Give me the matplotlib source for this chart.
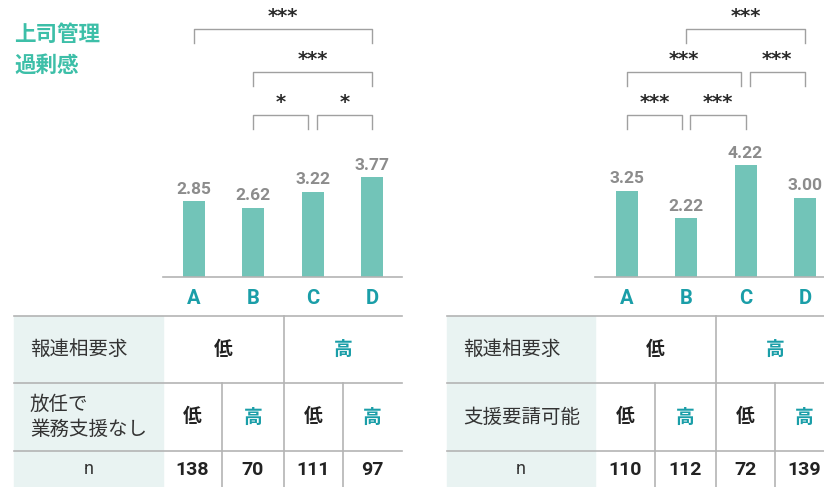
import numpy as np
import matplotlib.pyplot as plt

plt.rcParams['font.family'] = ['Noto Sans CJK JP', 'DejaVu Sans']

#%% data
groups = ['A', 'B', 'C', 'D']
vals_left = [2.85, 2.62, 3.22, 3.77]
vals_right = [3.25, 2.22, 4.22, 3.00]
n_left = [138, 70, 111, 97]
n_right = [110, 112, 72, 139]
row1_label = '報連相要求'
row1_vals = ['低', '高']
row2_label_left = '放任で\n業務支援なし'
row2_label_right = '支援要請可能'
row2_vals = ['低', '高', '低', '高']
# significance brackets: (i, j, level, label)
sig_left = [(0, 3, 0, '***'), (1, 3, 1, '***'), (1, 2, 2, '*'), (2, 3, 2, '*')]
sig_right = [(1, 3, 0, '***'), (0, 2, 1, '***'), (2, 3, 1, '***'), (0, 1, 2, '***'), (1, 2, 2, '***')]
title = '上司管理\n過剰感'

bar_c = '#72c4b8'
teal = '#1a9ea8'
title_c = '#3dbfa8'
val_c = '#8c8c8c'
line_c = '#b4b4b4'
shade_c = '#e9f3f2'

W, H = 824, 487
fig = plt.figure(figsize=(W / 100, H / 100), dpi=100)

# background axes in pixel coords for table + title
bg = fig.add_axes([0, 0, 1, 1])
bg.set_xlim(0, W)
bg.set_ylim(H, 0)
bg.axis('off')

base_y = 277
px_per_unit = 26.5
spacing = 59.3


def panel(x0, x1, c0, vals, sig):
    # x0,x1: baseline pixel extent, c0: pixel center of bar A
    ax = fig.add_axes([x0 / W, (H - base_y) / H, (x1 - x0) / W, base_y / H])
    ax.set_xlim((x0 - c0) / spacing, (x1 - c0) / spacing)
    ax.set_ylim(0, base_y / px_per_unit)
    ax.patch.set_alpha(0)
    x = np.arange(len(vals))
    ax.bar(x, vals, width=0.37, color=bar_c, zorder=2)
    for xi, v in zip(x, vals):
        ax.text(xi, v + 0.17, f'{v:.2f}', ha='center', va='bottom', fontsize=12.5,
                color=val_c, fontweight='bold', family='Roboto', clip_on=False)
    for s in ['top', 'right', 'left']:
        ax.spines[s].set_visible(False)
    ax.spines['bottom'].set_color(line_c)
    ax.spines['bottom'].set_linewidth(1.2)
    ax.set_yticks([])
    ax.set_xticks(x)
    ax.set_xticklabels(groups, color=teal, fontsize=14.5, fontweight='bold', family='Roboto')
    ax.tick_params(axis='x', length=0, pad=9)
    # brackets
    levels_y = [(base_y - 29) / px_per_unit, (base_y - 72) / px_per_unit, (base_y - 115) / px_per_unit]
    drop = 14 / px_per_unit
    gap = 0.07
    for i, j, lev, lab in sig:
        yb = levels_y[lev]
        # shrink slightly when brackets share an end
        xi = i + (gap if any(s[1] == i and s[2] == lev for s in sig) else 0)
        xj = j - (gap if any(s[0] == j and s[2] == lev for s in sig) else 0)
        ax.plot([xi, xi, xj, xj], [yb - drop, yb, yb, yb - drop], color='#a0a0a0', lw=1.0,
                clip_on=False)
        ax.text((xi + xj) / 2, yb + 0.12, lab, ha='center', va='bottom', fontsize=14,
                fontweight='bold', color='#2a2a2a', family='DejaVu Sans')
    return ax


panel(163, 402, 194, vals_left, sig_left)
panel(595, 824, 627, vals_right, sig_right)


def table(xl, xs, cols, n_vals, row2_label):
    # xl: left edge, xs: shaded end, cols: column edges
    top, r1, r2, bot = 316, 383, 451, 487
    bg.add_patch(plt.Rectangle((xl, top), xs - xl, bot - top, color=shade_c, zorder=0))
    for y in [top, r1, r2]:
        bg.plot([xl, cols[-1]], [y, y], color=line_c, lw=1.2)
    bg.plot([cols[2], cols[2]], [top, bot], color=line_c, lw=1.2)
    for k in [1, 3]:
        bg.plot([cols[k], cols[k]], [r1, bot], color=line_c, lw=1.2)
    bg.text(xl + 16, (top + r1) / 2, row1_label, ha='left', va='center', fontsize=14, color='#333333')
    bg.text(xl + 16, (r1 + r2) / 2, row2_label, ha='left', va='center', fontsize=14,
            color='#333333', linespacing=1.25)
    bg.text((xl + xs) / 2, (r2 + bot) / 2, 'n', ha='center', va='center', fontsize=13,
            color='#333333', family='Roboto')
    for g, lab in enumerate(row1_vals):
        cx = (cols[2 * g] + cols[2 * g + 2]) / 2
        bg.text(cx, (top + r1) / 2, lab, ha='center', va='center', fontsize=13.5, fontweight='bold',
                color='#222222' if lab == '低' else teal)
    for k, lab in enumerate(row2_vals):
        cx = (cols[k] + cols[k + 1]) / 2
        bg.text(cx, (r1 + r2) / 2, lab, ha='center', va='center', fontsize=13.5, fontweight='bold',
                color='#222222' if lab == '低' else teal)
    for k, nv in enumerate(n_vals):
        cx = (cols[k] + cols[k + 1]) / 2
        bg.text(cx, (r2 + bot) / 2 + 1, str(nv), ha='center', va='center', fontsize=14,
                fontweight='bold', color='#222222', family='Roboto')


table(14, 163, [163, 222, 284, 343, 402], n_left, row2_label_left)
table(447, 595, [595, 655, 716, 775, 834], n_right, row2_label_right)

bg.text(14, 24, title, ha='left', va='top', fontsize=15.5, fontweight='bold', color=title_c,
        linespacing=1.6)

fig.savefig('out.png', dpi=100)
